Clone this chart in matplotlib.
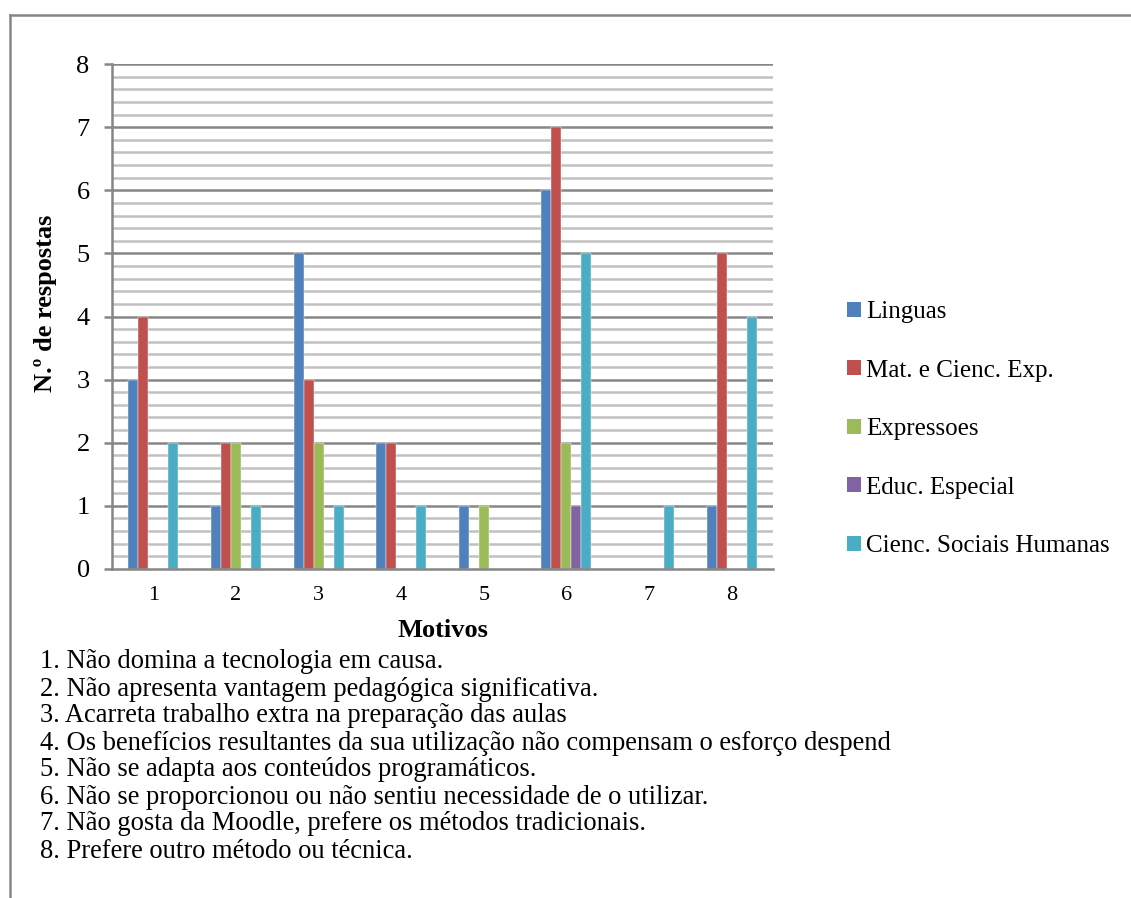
import numpy as np
import matplotlib.pyplot as plt
from matplotlib.lines import Line2D
from matplotlib.patches import Patch

plt.rcParams['font.family'] = ['Liberation Serif', 'DejaVu Serif']

# respostas por motivo e por grupo disciplinar
motivos = ['1', '2', '3', '4', '5', '6', '7', '8']
linguas = [3, 1, 5, 2, 1, 6, 0, 1]
mat_cienc = [4, 2, 3, 2, 0, 7, 0, 5]
expressoes = [0, 2, 2, 0, 1, 2, 0, 0]
educ_especial = [0, 0, 0, 0, 0, 1, 0, 0]
cienc_sociais = [2, 1, 1, 1, 0, 5, 1, 4]

series = [linguas, mat_cienc, expressoes, educ_especial, cienc_sociais]
nomes = ['Linguas', 'Mat. e Cienc. Exp.', 'Expressoes', 'Educ. Especial',
         'Cienc. Sociais Humanas']
cores = ['#4F81BD', '#C0504D', '#9BBB59', '#8064A2', '#4BACC6']

notas = [
    '1. Não domina a tecnologia em causa.',
    '2. Não apresenta vantagem pedagógica significativa.',
    '3. Acarreta trabalho extra na preparação das aulas',
    '4. Os benefícios resultantes da sua utilização não compensam o esforço despend',
    '5. Não se adapta aos conteúdos programáticos.',
    '6. Não se proporcionou ou não sentiu necessidade de o utilizar.',
    '7. Não gosta da Moodle, prefere os métodos tradicionais.',
    '8. Prefere outro método ou técnica.',
]

fig = plt.figure(figsize=(11.31, 8.98), dpi=100)
ax = fig.add_axes([0.0990, 0.3664, 0.5845, 0.5623])

x = np.arange(len(motivos))
largura = 0.1212
for i, (vals, nome, cor) in enumerate(zip(series, nomes, cores)):
    ax.bar(x + (i - 2) * largura, vals, largura, color=cor, label=nome,
           zorder=3, edgecolor='white', linewidth=0.3)

ax.set_xlim(-0.5, len(motivos) - 0.5)
ax.set_ylim(0, 8)

# grelha principal e secundaria
for v in np.arange(0.2, 8.0, 0.2):
    if abs(v - round(v)) > 1e-6:
        ax.axhline(v, color='#c0c0c0', linewidth=1.8, zorder=1)
for v in range(1, 9):
    ax.axhline(v, color='#868686', linewidth=1.8, zorder=1)

ax.set_yticks(range(0, 9))
ax.set_yticklabels([str(v) for v in range(0, 9)], fontsize=19)
ax.set_xticks(x)
ax.set_xticklabels(motivos, fontsize=16)
ax.tick_params(axis='y', length=6, width=1.8, color='#868686', pad=10)
ax.tick_params(axis='x', length=0, pad=12)

for s in ['top', 'right']:
    ax.spines[s].set_visible(False)
for s in ['left', 'bottom']:
    ax.spines[s].set_color('#868686')
    ax.spines[s].set_linewidth(1.8)
    ax.spines[s].set_zorder(4)

ax.set_xlabel('Motivos', fontsize=19, fontweight='bold', labelpad=10)
ax.set_ylabel('N.º de respostas', fontsize=19, fontweight='bold')
ax.yaxis.set_label_coords(-0.083, 0.527)

# legenda
alcas = [Patch(facecolor=c, edgecolor='none') for c in cores]
fig.legend(alcas, nomes, loc='upper left', bbox_to_anchor=(0.7489, 0.6647),
           frameon=False, fontsize=18, handlelength=0.56, handleheight=0.56,
           handletextpad=0.2, labelspacing=1.46, borderaxespad=0,
           borderpad=0)

# moldura do grafico
fig.add_artist(Line2D([0.0088, 0.0088], [0.0, 0.9833], color='#868686',
                      linewidth=1.8, transform=fig.transFigure))
fig.add_artist(Line2D([0.0088, 1.0], [0.9833, 0.9833], color='#868686',
                      linewidth=1.8, transform=fig.transFigure))

# legenda dos motivos
for k, linha in enumerate(notas):
    fig.text(40 / 1131, 1 - (662 + 27 * k) / 898, linha, fontsize=19.1,
             va='center', ha='left')

fig.savefig('out.png', dpi=100)
